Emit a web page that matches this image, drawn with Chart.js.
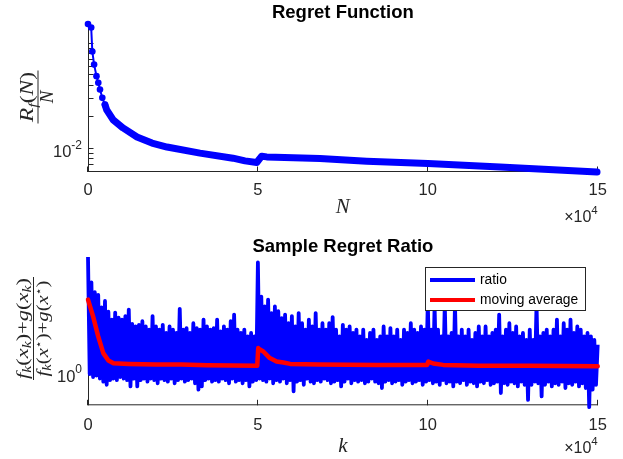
<!DOCTYPE html>
<html><head><meta charset="utf-8">
<script src="https://cdn.jsdelivr.net/npm/chart.js@4.4.1/dist/chart.umd.min.js"></script>
<style>
html,body{margin:0;padding:0;background:#fff;}
#wrap{position:relative;width:623px;height:459px;overflow:hidden;background:#fff;}
canvas{position:absolute;left:0;}
</style></head><body>
<div id="wrap">
<canvas id="c1" width="623" height="230" style="top:0;width:623px;height:230px"></canvas>
<canvas id="c2" width="623" height="229" style="top:230px;width:623px;height:229px"></canvas>
</div>
<script>
// ---------- DATA ----------
// Top panel: regret function R_f(N)/N
const regretN = [0, 940, 1270, 1800, 2500, 3030, 3530, 4210, 5000, 5500, 7360, 10300, 14420, 18830, 23250, 32960, 42670, 46200, 49650, 51120, 52590, 68270, 82030, 100060, 121250, 149800];
const regretValue = [0.151, 0.140, 0.0827, 0.062, 0.0481, 0.0416, 0.0359, 0.0299, 0.0257, 0.0230, 0.0185, 0.01546, 0.01267, 0.01109, 0.01016, 0.00889, 0.00796, 0.0075, 0.00724, 0.00832, 0.00819, 0.00791, 0.00745, 0.00708, 0.00656, 0.00588];

// Bottom panel: sample regret ratio, read as upper / lower envelope per bin of 1000 iterations (k = 0 .. 150000)
const ratioBinWidth = 1000;
const ratioHigh = [
2.2,1.85,1.73,1.70,1.56,1.63,1.515,1.435,1.506,1.455,
1.435,1.47,1.537,1.395,1.37,1.385,1.42,1.37,1.34,1.47,
1.37,1.34,1.385,1.31,1.37,1.34,1.31,1.544,1.34,1.355,
1.31,1.40,1.355,1.34,1.435,1.37,1.34,1.355,1.435,1.325,
1.37,1.34,1.42,1.485,1.34,1.31,1.34,1.28,1.31,1.28,
2.12,1.68,1.57,1.645,1.50,1.57,1.52,1.45,1.485,1.40,
1.47,1.37,1.50,1.40,1.34,1.435,1.37,1.50,1.34,1.40,
1.34,1.40,1.46,1.34,1.28,1.385,1.34,1.37,1.31,1.34,
1.28,1.34,1.25,1.31,1.34,1.25,1.28,1.37,1.28,1.355,
1.28,1.34,1.25,1.34,1.31,1.40,1.34,1.31,1.37,1.34,
1.62,1.34,1.58,1.34,1.28,1.6,1.28,1.31,1.6,1.28,
1.34,1.28,1.34,1.25,1.31,1.37,1.28,1.37,1.28,1.31,
1.34,1.485,1.28,1.34,1.40,1.31,1.37,1.28,1.31,1.25,
1.34,1.25,1.6,1.28,1.31,1.34,1.28,1.34,1.435,1.28,
1.40,1.34,1.435,1.31,1.37,1.34,1.28,1.31,1.28,1.25,
1.21];
const ratioLow = [
0.99,0.97,0.98,0.96,0.94,0.92,0.95,0.96,0.95,0.97,
0.96,0.95,0.91,0.96,0.91,0.95,0.96,0.94,0.96,0.95,
0.93,0.96,0.95,0.94,0.96,0.93,0.95,0.96,0.94,0.95,
0.96,0.93,0.89,0.91,0.95,0.96,0.94,0.95,0.94,0.96,
0.95,0.93,0.96,0.94,0.95,0.93,0.95,0.91,0.94,0.95,
0.96,0.95,0.94,0.96,0.93,0.95,0.94,0.96,0.93,0.95,
0.88,0.94,0.95,0.92,0.96,0.94,0.93,0.95,0.94,0.96,
0.95,0.93,0.94,0.95,0.91,0.94,0.96,0.93,0.95,0.94,
0.95,0.93,0.94,0.96,0.94,0.93,0.90,0.94,0.95,0.93,
0.94,0.95,0.92,0.94,0.95,0.93,0.94,0.95,0.92,0.94,
0.95,0.93,0.94,0.92,0.95,0.93,0.94,0.91,0.94,0.93,
0.95,0.92,0.94,0.93,0.91,0.94,0.93,0.95,0.92,0.93,
0.94,0.87,0.93,0.92,0.94,0.93,0.91,0.94,0.92,0.83,
0.92,0.94,0.93,0.85,0.92,0.94,0.91,0.93,0.92,0.94,
0.90,0.93,0.92,0.94,0.91,0.93,0.90,0.79,0.89,0.92,
0.93];
// moving average
const movingK = [0, 1500, 3000, 4500, 6000, 7500, 12000, 20000, 27500, 35000, 49800, 50100, 50600, 51600, 53500, 55500, 57500, 59500, 68000, 85000, 99800, 100150, 101600, 104500, 115000, 130000, 150000];
const movingValue = [1.645, 1.467, 1.28, 1.142, 1.086, 1.066, 1.061, 1.056, 1.056, 1.052, 1.047, 1.182, 1.17, 1.155, 1.104, 1.078, 1.071, 1.061, 1.056, 1.054, 1.054, 1.078, 1.064, 1.054, 1.047, 1.047, 1.045];

// tick values / labels
const xTickValues = [0, 50000, 100000, 150000];
const xTickLabels = ['0', '5', '10', '15'];
const topYTicks = [0.006,0.007,0.008,0.009,0.01,0.02,0.03,0.04,0.05,0.06,0.07,0.08,0.09,0.1];
const topYLabels = [{v:0.01, exp:'-2'}];
const bottomYTicks = [1];
const bottomYLabels = [{v:1, exp:'0'}];
const seriesNames = ['ratio', 'moving average'];

// ---------- DRAWING HELPERS ----------
const AXIS = '#262626';
const SANS = '"Liberation Sans", Arial, Helvetica, sans-serif';
const SERIF = '"Liberation Serif", "Times New Roman", serif';

function mathRun(ctx, pieces, x, y, size, draw) {
  let cx = x;
  for (const [t, k] of pieces) {
    let dy = 0;
    if (k === 'i') ctx.font = `italic ${size}px ${SERIF}`;
    else if (k === 'r') ctx.font = `${size}px ${SERIF}`;
    else if (k === 'sub') { ctx.font = `italic ${size*0.7}px ${SERIF}`; dy = size*0.2; }
    else if (k === 'sup') { ctx.font = `${size*0.6}px "DejaVu Sans", sans-serif`; dy = -size*0.3; }
    if (draw) ctx.fillText(t, cx, y + dy);
    cx += ctx.measureText(t).width;
  }
  return cx - x;
}
function drawFraction(ctx, f) {
  ctx.save();
  ctx.translate(f.cx, f.cy);
  ctx.rotate(-Math.PI/2);
  ctx.fillStyle = AXIS;
  ctx.textAlign = 'left'; ctx.textBaseline = 'alphabetic';
  let w = mathRun(ctx, f.num, 0, 0, f.size, false);
  let s = f.numLen ? f.numLen / w : 1;
  ctx.save(); ctx.scale(s, 1); mathRun(ctx, f.num, -w/2, f.numW, f.size, true); ctx.restore();
  w = mathRun(ctx, f.den, 0, 0, f.size, false);
  s = f.denLen ? f.denLen / w : 1;
  ctx.save(); ctx.scale(s, 1); mathRun(ctx, f.den, -w/2, f.denW, f.size, true); ctx.restore();
  ctx.fillRect(-f.barLen/2, -0.5, f.barLen, 1);
  ctx.restore();
}

function makePlugin(cfg) {
  return {
    id: 'matlab_' + cfg.name,
    beforeDatasetsDraw(chart) {
      const ctx = chart.ctx, a = chart.chartArea, xs = chart.scales.x, ys = chart.scales.y;
      ctx.save();
      ctx.strokeStyle = AXIS; ctx.lineWidth = 1;
      ctx.beginPath();
      ctx.moveTo(a.left + 0.5, a.top); ctx.lineTo(a.left + 0.5, a.bottom);
      ctx.moveTo(a.left, a.bottom - 0.5); ctx.lineTo(a.right, a.bottom - 0.5);
      for (const v of xTickValues) {
        const px = Math.round(xs.getPixelForValue(v)) - 0.5;
        ctx.moveTo(px, a.bottom); ctx.lineTo(px, a.bottom - 5.5);
      }
      for (const v of cfg.yTicks) {
        const py = Math.round(ys.getPixelForValue(v)) + 0.5;
        ctx.moveTo(a.left, py); ctx.lineTo(a.left + 5.5, py);
      }
      ctx.stroke();
      ctx.restore();
    },
    afterDraw(chart) {
      const ctx = chart.ctx, a = chart.chartArea, xs = chart.scales.x, ys = chart.scales.y;
      ctx.save();
      ctx.fillStyle = AXIS;
      ctx.font = `16.5px ${SANS}`; ctx.textAlign = 'center'; ctx.textBaseline = 'alphabetic';
      xTickValues.forEach((v, i) => ctx.fillText(xTickLabels[i], xs.getPixelForValue(v), a.bottom + cfg.tickOff));
      ctx.font = `11.5px ${SANS}`; const w4 = ctx.measureText('4').width;
      ctx.font = `16px ${SANS}`; const wb = ctx.measureText('\u00d710').width;
      ctx.textAlign = 'left';
      ctx.fillText('\u00d710', a.right - w4 - wb, a.bottom + cfg.expOff);
      ctx.font = `11.5px ${SANS}`; ctx.fillText('4', a.right - w4, a.bottom + cfg.expOff - 8);
      for (const lab of cfg.yLabels) {
        const py = ys.getPixelForValue(lab.v);
        const xr = a.left - 6;
        ctx.font = `12px ${SANS}`; const we = ctx.measureText(lab.exp).width;
        ctx.font = `16.5px ${SANS}`; const w10 = ctx.measureText('10').width;
        ctx.fillText('10', xr - we - w10, py + 9);
        ctx.font = `12px ${SANS}`; ctx.fillText(lab.exp, xr - we, py + 0.8);
      }
      ctx.font = `italic 21px ${SERIF}`; ctx.textAlign = 'center';
      ctx.fillText(cfg.xlabel, (a.left + a.right)/2, a.bottom + cfg.xlabelOff);
      ctx.fillStyle = '#000';
      ctx.font = `bold 18.5px ${SANS}`; ctx.textAlign = 'center';
      ctx.fillText(cfg.title, (a.left + a.right)/2, cfg.titleBase);
      ctx.restore();
      drawFraction(ctx, cfg.ylabel);
      if (cfg.legend) {
        const L = cfg.legend;
        ctx.save();
        ctx.fillStyle = '#fff';
        ctx.fillRect(L.x, L.y, L.w, L.h);
        ctx.strokeStyle = AXIS; ctx.lineWidth = 1;
        ctx.strokeRect(L.x + 0.5, L.y + 0.5, L.w - 1, L.h - 1);
        ctx.font = `13.8px ${SANS}`; ctx.textAlign = 'left'; ctx.textBaseline = 'middle';
        chart.data.datasets.slice().sort((p, q) => p.legendIndex - q.legendIndex).forEach((ds, i) => {
          const yy = L.y + L.first + i * L.step;
          ctx.strokeStyle = ds.borderColor; ctx.lineWidth = 4; ctx.lineCap = 'butt';
          ctx.beginPath(); ctx.moveTo(L.x + 5, yy); ctx.lineTo(L.x + 50, yy); ctx.stroke();
          ctx.fillStyle = '#000';
          ctx.fillText(ds.label, L.x + 55, yy + 0.5);
        });
        ctx.restore();
      }
    }
  };
}

Chart.defaults.font.family = SANS;

// ---------- TOP CHART ----------
const topCfg = {
  name: 'top', yTicks: topYTicks, yLabels: topYLabels,
  tickOff: 23, expOff: 49.5, xlabel: 'N', xlabelOff: 41.3,
  title: 'Regret Function', titleBase: 18.3,
  ylabel: { cx: 38, cy: 97, size: 19, barLen: 53,
    num: [['R','i'],['f','sub'],['(','r'],['N','i'],[')','r']], numLen: 50, numW: -5.2,
    den: [['N','i']], denLen: 0, denW: 15.3 }
};
new Chart(document.getElementById('c1'), {
  type: 'line',
  data: { datasets: [{
    label: 'regret',
    data: regretN.map((n, i) => ({ x: n, y: regretValue[i] })),
    borderColor: '#0000ff', backgroundColor: '#0000ff',
    borderWidth: 2,
    segment: { borderWidth: c => (c.p0DataIndex < 8 ? 2 : 7) },
    pointRadius: c => (c.dataIndex <= 8 ? 3.3 : 0),
    pointBorderWidth: 0, pointHoverRadius: 0,
    borderCapStyle: 'round', borderJoinStyle: 'round',
    tension: 0, clip: false
  }]},
  options: {
    responsive: false, animation: false, devicePixelRatio: 1,
    layout: { padding: { left: 88, right: 25.3, top: 24, bottom: 58 } },
    plugins: { legend: { display: false }, tooltip: { enabled: false } },
    scales: {
      x: { type: 'linear', min: 0, max: 150000, display: false },
      y: { type: 'logarithmic', min: 0.00588, max: 0.151, display: false }
    }
  },
  plugins: [makePlugin(topCfg)]
});

// ---------- BOTTOM CHART ----------
const ratioPoints = [];
ratioHigh.forEach((h, i) => {
  ratioPoints.push({ x: i * ratioBinWidth, y: h });
  ratioPoints.push({ x: i * ratioBinWidth + ratioBinWidth / 2, y: ratioLow[i] });
});
const bottomCfg = {
  name: 'bottom', yTicks: bottomYTicks, yLabels: bottomYLabels,
  tickOff: 24.5, expOff: 48, xlabel: 'k', xlabelOff: 46.4,
  title: 'Sample Regret Ratio', titleBase: 21.7,
  ylabel: { cx: 33.5, cy: 98.5, size: 17.5, barLen: 103,
    num: [['f','i'],['k','sub'],['(','r'],['x','i'],['k','sub'],[')','r'],['+','r'],['g','i'],['(','r'],['x','i'],['k','sub'],[')','r']], numLen: 101, numW: -5.6,
    den: [['f','i'],['k','sub'],['(','r'],['x','i'],['\u22c6','sup'],[')','r'],['+','r'],['g','i'],['(','r'],['x','i'],['\u22c6','sup'],[')','r']], denLen: 96, denW: 14.2 },
  legend: { x: 425, y: 37, w: 161, h: 44, first: 13, step: 20 }
};
new Chart(document.getElementById('c2'), {
  type: 'line',
  data: { datasets: [
    { label: seriesNames[1], legendIndex: 1, order: 0,
      data: movingK.map((k, i) => ({ x: k, y: movingValue[i] })),
      borderColor: '#ff0000', backgroundColor: '#ff0000', borderWidth: 4.5,
      pointRadius: 0, borderJoinStyle: 'round', borderCapStyle: 'round', tension: 0, clip: false },
    { label: seriesNames[0], legendIndex: 0, order: 1,
      data: ratioPoints,
      borderColor: '#0000ff', backgroundColor: '#0000ff', borderWidth: 3.8,
      pointRadius: 0, borderJoinStyle: 'round', borderCapStyle: 'butt', tension: 0, clip: false }
  ]},
  options: {
    responsive: false, animation: false, devicePixelRatio: 1,
    layout: { padding: { left: 88, right: 25.3, top: 27, bottom: 53.7 } },
    plugins: { legend: { display: false }, tooltip: { enabled: false } },
    scales: {
      x: { type: 'linear', min: 0, max: 150000, display: false },
      y: { type: 'logarithmic', min: 0.8, max: 2.2, display: false }
    }
  },
  plugins: [makePlugin(bottomCfg)]
});
</script>
</body></html>
